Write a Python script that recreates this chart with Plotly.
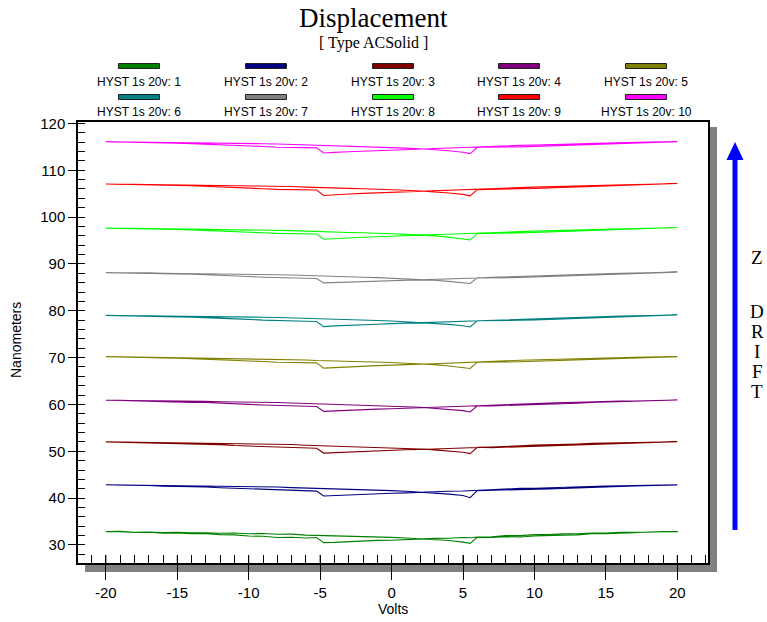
import plotly.graph_objects as go

# Voltage grid (V) shared by both sweep branches
VOLTS = [-20, -19, -18, -17, -16, -15, -14, -13, -12, -11, -10, -9, -8, -7, -6, -5.25, -4.75,
         -4, -3, -2, -1, 0, 1, 2, 3, 4, 5, 5.5, 6, 7, 8, 9, 10, 11, 12, 13, 14, 15, 16, 17, 18, 19, 20]

SERIES_NAMES = ["HYST 1s 20v: 1", "HYST 1s 20v: 2", "HYST 1s 20v: 3", "HYST 1s 20v: 4", "HYST 1s 20v: 5",
                "HYST 1s 20v: 6", "HYST 1s 20v: 7", "HYST 1s 20v: 8", "HYST 1s 20v: 9", "HYST 1s 20v: 10"]
SERIES_COLORS = ["#008000", "#000080", "#800000", "#800080", "#808000",
                 "#008080", "#808080", "#00FF00", "#FF0000", "#FF00FF"]

# forward sweep (-20 -> +20) and return sweep (values listed at the same voltages, -20 -> +20)
up_1 = [32.85, 32.9, 32.7, 32.78, 32.64, 32.7, 32.58, 32.62, 32.5, 32.55, 32.4, 32.45, 32.3, 32.32, 32.1, 32.05, 31.95, 32.0, 31.82, 31.85, 31.7, 31.62, 31.5, 31.35, 31.2, 30.95, 30.6, 30.35, 31.65, 31.6, 31.75, 31.7, 31.9, 31.92, 32.1, 32.15, 32.4, 32.42, 32.6, 32.62, 32.78, 32.75, 32.85]
dn_1 = [32.82, 32.85, 32.68, 32.7, 32.52, 32.55, 32.38, 32.4, 32.2, 32.15, 31.9, 31.85, 31.6, 31.65, 31.5, 31.58, 30.5, 30.55, 30.75, 30.8, 30.98, 31.0, 31.2, 31.22, 31.4, 31.42, 31.6, 31.55, 31.7, 31.75, 32.0, 32.0, 32.2, 32.2, 32.4, 32.38, 32.55, 32.52, 32.7, 32.68, 32.8, 32.78, 32.88]
up_2 = [42.85, 42.82, 42.78, 42.7, 42.72, 42.62, 42.65, 42.55, 42.58, 42.48, 42.45, 42.38, 42.37, 42.25, 42.18, 42.05, 42.02, 41.92, 41.9, 41.78, 41.75, 41.6, 41.48, 41.3, 41.15, 40.85, 40.55, 40.1, 41.6, 41.65, 41.68, 41.8, 41.82, 41.98, 42.05, 42.2, 42.32, 42.45, 42.5, 42.62, 42.7, 42.75, 42.8]
dn_2 = [42.8, 42.82, 42.72, 42.68, 42.55, 42.52, 42.4, 42.38, 42.22, 42.12, 41.95, 41.82, 41.68, 41.6, 41.58, 41.5, 40.45, 40.6, 40.68, 40.85, 40.9, 41.05, 41.12, 41.28, 41.32, 41.48, 41.52, 41.62, 41.65, 41.82, 41.92, 42.08, 42.12, 42.28, 42.32, 42.45, 42.48, 42.6, 42.62, 42.72, 42.75, 42.8, 42.82]
up_3 = [52.0, 51.96, 51.88, 51.9, 51.82, 51.8, 51.75, 51.76, 51.68, 51.66, 51.58, 51.57, 51.48, 51.45, 51.3, 51.22, 51.15, 51.12, 51.0, 50.98, 50.88, 50.78, 50.62, 50.5, 50.3, 50.08, 49.78, 49.5, 50.85, 50.78, 50.88, 50.9, 51.02, 51.08, 51.22, 51.32, 51.5, 51.58, 51.7, 51.78, 51.88, 51.92, 52.02]
dn_3 = [51.98, 51.94, 51.9, 51.78, 51.75, 51.62, 51.6, 51.48, 51.42, 51.22, 51.12, 50.92, 50.82, 50.72, 50.72, 50.65, 49.62, 49.7, 49.88, 49.95, 50.1, 50.18, 50.32, 50.38, 50.52, 50.58, 50.72, 50.75, 50.82, 50.92, 51.12, 51.18, 51.32, 51.38, 51.52, 51.56, 51.68, 51.7, 51.82, 51.85, 51.94, 51.95, 52.0]
up_4 = [60.9, 60.88, 60.78, 60.8, 60.72, 60.72, 60.65, 60.66, 60.58, 60.56, 60.5, 60.44, 60.4, 60.3, 60.22, 60.1, 60.05, 60.0, 59.92, 59.85, 59.8, 59.65, 59.52, 59.4, 59.2, 58.95, 58.68, 58.4, 59.72, 59.7, 59.78, 59.8, 59.92, 60.0, 60.12, 60.25, 60.4, 60.5, 60.6, 60.72, 60.78, 60.88, 60.92]
dn_4 = [60.88, 60.86, 60.76, 60.72, 60.6, 60.56, 60.45, 60.42, 60.3, 60.18, 60.02, 59.88, 59.72, 59.65, 59.6, 59.56, 58.52, 58.6, 58.78, 58.86, 59.0, 59.08, 59.22, 59.28, 59.42, 59.48, 59.62, 59.66, 59.72, 59.85, 60.02, 60.08, 60.22, 60.28, 60.42, 60.46, 60.58, 60.6, 60.72, 60.75, 60.85, 60.86, 60.95]
up_5 = [70.2, 70.15, 70.12, 70.05, 70.06, 69.98, 69.98, 69.9, 69.92, 69.84, 69.8, 69.74, 69.72, 69.6, 69.5, 69.38, 69.35, 69.3, 69.2, 69.16, 69.06, 68.95, 68.8, 68.68, 68.5, 68.22, 67.95, 67.68, 69.02, 68.98, 69.05, 69.1, 69.2, 69.3, 69.4, 69.56, 69.7, 69.8, 69.9, 70.0, 70.08, 70.14, 70.2]
dn_5 = [70.18, 70.16, 70.06, 70.02, 69.9, 69.86, 69.76, 69.68, 69.6, 69.48, 69.32, 69.18, 69.0, 68.95, 68.9, 68.88, 67.75, 67.9, 68.05, 68.18, 68.28, 68.4, 68.55, 68.6, 68.7, 68.8, 68.9, 68.95, 69.0, 69.15, 69.3, 69.44, 69.5, 69.6, 69.7, 69.78, 69.85, 69.92, 70.0, 70.06, 70.12, 70.16, 70.2]
up_6 = [79.0, 79.02, 78.94, 78.95, 78.88, 78.86, 78.82, 78.8, 78.74, 78.72, 78.64, 78.62, 78.55, 78.48, 78.36, 78.26, 78.2, 78.16, 78.06, 78.02, 77.92, 77.8, 77.66, 77.54, 77.34, 77.1, 76.8, 76.55, 77.86, 77.84, 77.9, 77.96, 78.05, 78.16, 78.25, 78.4, 78.55, 78.65, 78.75, 78.86, 78.92, 79.02, 79.1]
dn_6 = [79.02, 79.0, 78.92, 78.86, 78.78, 78.7, 78.64, 78.55, 78.46, 78.3, 78.16, 78.0, 77.86, 77.8, 77.76, 77.72, 76.62, 76.78, 76.9, 77.04, 77.12, 77.26, 77.34, 77.46, 77.54, 77.66, 77.74, 77.8, 77.86, 78.0, 78.16, 78.24, 78.36, 78.44, 78.56, 78.62, 78.7, 78.76, 78.86, 78.9, 78.98, 79.02, 79.08]
up_7 = [88.12, 88.15, 88.06, 88.08, 88.0, 87.98, 87.95, 87.9, 87.88, 87.82, 87.78, 87.74, 87.68, 87.62, 87.5, 87.4, 87.35, 87.3, 87.22, 87.16, 87.08, 86.96, 86.82, 86.7, 86.52, 86.28, 86.0, 85.82, 87.02, 87.0, 87.06, 87.1, 87.2, 87.3, 87.4, 87.55, 87.7, 87.8, 87.9, 88.0, 88.1, 88.16, 88.25]
dn_7 = [88.15, 88.12, 88.05, 87.98, 87.92, 87.84, 87.78, 87.7, 87.6, 87.46, 87.3, 87.16, 87.02, 86.96, 86.92, 86.88, 85.95, 86.05, 86.18, 86.28, 86.36, 86.46, 86.55, 86.64, 86.72, 86.82, 86.9, 86.95, 87.0, 87.15, 87.3, 87.4, 87.5, 87.6, 87.7, 87.78, 87.85, 87.92, 88.0, 88.06, 88.12, 88.18, 88.22]
up_8 = [97.62, 97.66, 97.58, 97.55, 97.52, 97.48, 97.45, 97.42, 97.38, 97.32, 97.3, 97.24, 97.2, 97.12, 97.0, 96.9, 96.85, 96.8, 96.72, 96.64, 96.58, 96.45, 96.3, 96.18, 95.98, 95.72, 95.42, 95.12, 96.45, 96.48, 96.55, 96.6, 96.7, 96.8, 96.9, 97.05, 97.2, 97.3, 97.4, 97.5, 97.6, 97.68, 97.78]
dn_8 = [97.65, 97.62, 97.55, 97.5, 97.42, 97.35, 97.28, 97.2, 97.1, 96.95, 96.8, 96.66, 96.52, 96.45, 96.4, 96.38, 95.28, 95.42, 95.55, 95.68, 95.78, 95.9, 96.0, 96.1, 96.2, 96.3, 96.38, 96.42, 96.5, 96.65, 96.8, 96.9, 97.0, 97.1, 97.2, 97.28, 97.35, 97.42, 97.5, 97.56, 97.62, 97.68, 97.75]
up_9 = [107.02, 107.06, 106.98, 106.95, 106.92, 106.88, 106.86, 106.82, 106.78, 106.74, 106.7, 106.64, 106.6, 106.52, 106.4, 106.3, 106.25, 106.2, 106.12, 106.05, 105.98, 105.85, 105.72, 105.58, 105.4, 105.14, 104.84, 104.52, 105.86, 105.88, 105.95, 106.0, 106.1, 106.2, 106.3, 106.45, 106.6, 106.7, 106.8, 106.9, 107.0, 107.08, 107.18]
dn_9 = [107.05, 107.02, 106.96, 106.9, 106.82, 106.75, 106.68, 106.6, 106.5, 106.36, 106.2, 106.06, 105.92, 105.85, 105.8, 105.78, 104.62, 104.78, 104.92, 105.06, 105.16, 105.28, 105.38, 105.48, 105.58, 105.68, 105.78, 105.82, 105.9, 106.04, 106.2, 106.3, 106.4, 106.5, 106.6, 106.68, 106.75, 106.82, 106.9, 106.96, 107.02, 107.08, 107.15]
up_10 = [116.05, 116.1, 116.0, 115.98, 115.96, 115.9, 115.88, 115.84, 115.8, 115.76, 115.7, 115.66, 115.6, 115.52, 115.4, 115.3, 115.25, 115.2, 115.12, 115.05, 114.98, 114.85, 114.72, 114.58, 114.4, 114.15, 113.85, 113.55, 114.9, 114.9, 114.95, 115.0, 115.1, 115.2, 115.3, 115.45, 115.6, 115.7, 115.8, 115.9, 115.98, 116.05, 116.12]
dn_10 = [116.08, 116.05, 115.98, 115.9, 115.82, 115.75, 115.68, 115.6, 115.5, 115.36, 115.2, 115.06, 114.92, 114.85, 114.8, 114.78, 113.68, 113.82, 113.95, 114.08, 114.18, 114.3, 114.4, 114.5, 114.6, 114.7, 114.8, 114.85, 114.9, 115.05, 115.2, 115.3, 115.4, 115.5, 115.6, 115.68, 115.75, 115.82, 115.9, 115.96, 116.02, 116.06, 116.1]

UP = [up_1, up_2, up_3, up_4, up_5, up_6, up_7, up_8, up_9, up_10]
DOWN = [dn_1, dn_2, dn_3, dn_4, dn_5, dn_6, dn_7, dn_8, dn_9, dn_10]

X_TICKS = [-20, -15, -10, -5, 0, 5, 10, 15, 20]
X_TICK_LABELS = ["-20", "-15", "-10", "-5", "0", "5", "10", "15", "20"]

# ---- layout geometry (pixels) ----
W, H = 767, 622
L, R, T, B = 78, 708, 122, 563
PW, PH = R - L, B - T


def px(xp):
    return (xp - L) / PW


def py(yp):
    return (B - yp) / PH


fig = go.Figure()
for name, col, u, d in zip(SERIES_NAMES, SERIES_COLORS, UP, DOWN):
    fig.add_trace(go.Scatter(
        x=VOLTS + VOLTS[::-1], y=u + d[::-1], mode="lines", name=name,
        line=dict(color=col, width=1.1), showlegend=False, hoverinfo="skip"))

shapes = []
annotations = []

# drop shadow strips
shapes.append(dict(type="rect", xref="paper", yref="paper", x0=1, x1=px(R + 9),
                   y0=py(B + 9), y1=py(T + 5), fillcolor="#808080", line=dict(width=0), layer="below"))
shapes.append(dict(type="rect", xref="paper", yref="paper", x0=px(L + 7), x1=1,
                   y0=py(B + 9), y1=0, fillcolor="#808080", line=dict(width=0), layer="below"))

# inside part of major x ticks (cross ticks)
for v in X_TICKS:
    shapes.append(dict(type="line", xref="x", yref="paper", x0=v, x1=v, y0=0, y1=8 / PH,
                       line=dict(color="black", width=1)))

# custom legend (sample above label, 2 rows x 5)
col_centers = [139, 266, 393, 519, 646]
row_sample_y = [66, 97]
row_text_y = [82, 112]
for i, (name, col) in enumerate(zip(SERIES_NAMES, SERIES_COLORS)):
    r, c = divmod(i, 5)
    cx = col_centers[c]
    shapes.append(dict(type="rect", xref="paper", yref="paper",
                       x0=px(cx - 20.5), x1=px(cx + 20.5),
                       y0=py(row_sample_y[r] + 2.5), y1=py(row_sample_y[r] - 2.5),
                       fillcolor=col, line=dict(color="#222222", width=1)))
    annotations.append(dict(xref="paper", yref="paper", x=px(cx), y=py(row_text_y[r]),
                            text=name, showarrow=False, xanchor="center", yanchor="middle",
                            font=dict(family="Liberation Sans, Arial", size=12, color="black")))

# title & subtitle
annotations.append(dict(xref="paper", yref="paper", x=px(373), y=py(18), text="Displacement",
                        showarrow=False, xanchor="center", yanchor="middle",
                        font=dict(family="Liberation Serif, Times New Roman", size=27, color="black")))
annotations.append(dict(xref="paper", yref="paper", x=px(373), y=py(43), text="[ Type ACSolid ]",
                        showarrow=False, xanchor="center", yanchor="middle",
                        font=dict(family="Liberation Serif, Times New Roman", size=16, color="black")))

# axis titles
annotations.append(dict(xref="paper", yref="paper", x=px(16), y=py(340), text="Nanometers",
                        showarrow=False, textangle=-90, xanchor="center", yanchor="middle",
                        font=dict(family="Liberation Sans, Arial", size=14, color="black")))
annotations.append(dict(xref="paper", yref="paper", x=px(393), y=py(609), text="Volts",
                        showarrow=False, xanchor="center", yanchor="middle",
                        font=dict(family="Liberation Sans, Arial", size=14, color="black")))

# Z DRIFT arrow
ax = 735
shapes.append(dict(type="line", xref="paper", yref="paper", x0=px(ax), x1=px(ax),
                   y0=py(530), y1=py(157), line=dict(color="#0000FF", width=5)))
shapes.append(dict(type="path", xref="paper", yref="paper",
                   path=f"M {px(ax)} {py(142)} L {px(ax - 8.5)} {py(160)} L {px(ax + 8.5)} {py(160)} Z",
                   fillcolor="#0000FF", line=dict(color="#0000FF", width=0)))
for ch, yy in zip(["Z", "D", "R", "I", "F", "T"], [257, 311, 331, 351, 371, 391]):
    annotations.append(dict(xref="paper", yref="paper", x=px(757), y=py(yy), text=ch,
                            showarrow=False, xanchor="center", yanchor="middle",
                            font=dict(family="Liberation Serif, Times New Roman", size=19, color="black")))

tickfont = dict(family="Liberation Sans, Arial", size=15, color="black")
fig.update_layout(
    width=W, height=H,
    margin=dict(l=L, r=W - R, t=T, b=H - B, pad=0),
    paper_bgcolor="white", plot_bgcolor="white",
    showlegend=False,
    shapes=shapes, annotations=annotations,
    xaxis=dict(range=[-21.95, 22.15], tickvals=X_TICKS, ticktext=X_TICK_LABELS,
               ticks="outside", ticklen=15,
               tickwidth=1, tickcolor="black", showline=True, linecolor="black", linewidth=1.5,
               mirror=True, showgrid=False, zeroline=False, tickfont=tickfont,
               minor=dict(dtick=1, tick0=0, ticks="inside", ticklen=8, tickcolor="black",
                          tickwidth=1, showgrid=False)),
    yaxis=dict(range=[26.15, 120.3], tick0=0, dtick=10, ticks="outside", ticklen=8,
               tickwidth=1, tickcolor="black", showline=True, linecolor="black", linewidth=1.5,
               mirror=True, showgrid=False, zeroline=False, tickfont=tickfont,
               minor=dict(dtick=2, tick0=0, ticks="inside", ticklen=7, tickcolor="black",
                          tickwidth=1, showgrid=False)),
)

fig.write_html("out.html", config={"displayModeBar": False},
               post_script="document.body.style.margin='0';document.body.style.padding='0';")
